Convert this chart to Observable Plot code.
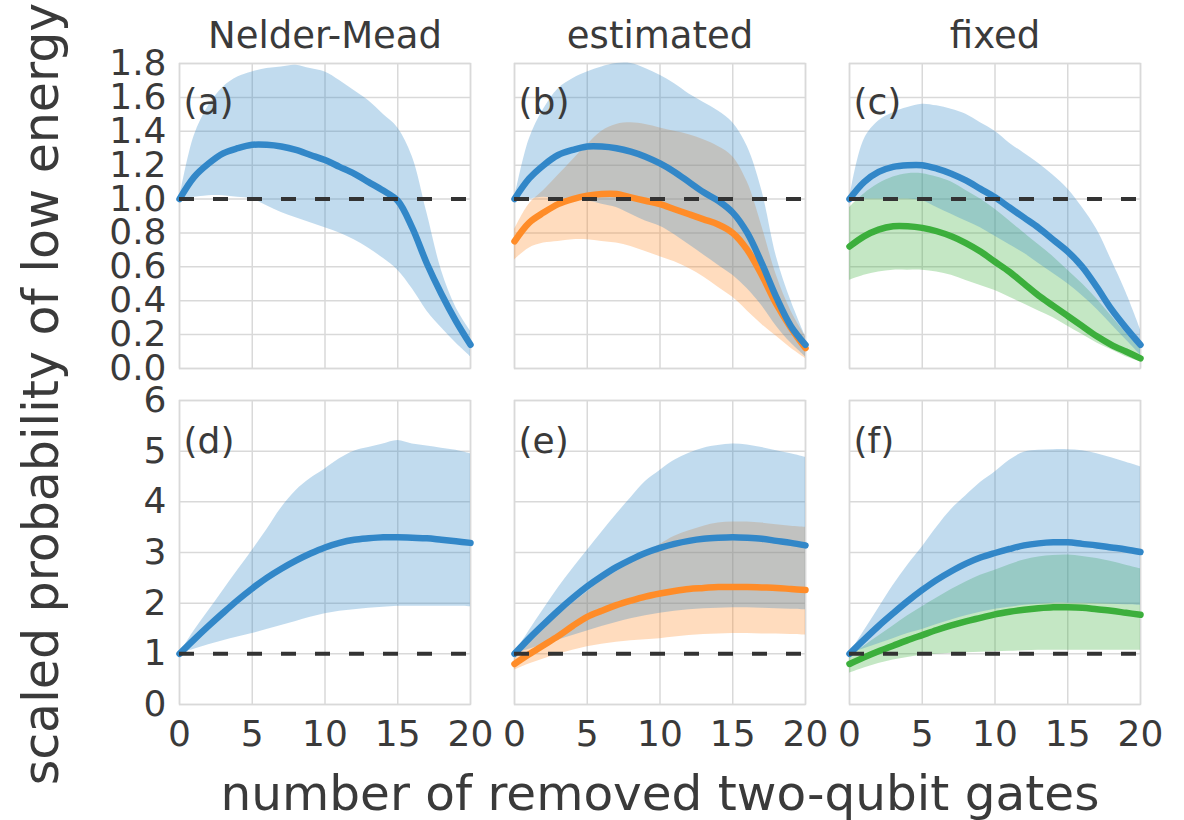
<!DOCTYPE html>
<html>
<head>
<meta charset="utf-8">
<script src="https://cdn.jsdelivr.net/npm/d3@7"></script>
<script src="https://cdn.jsdelivr.net/npm/@observablehq/plot@0.6"></script>
<style>
  html, body { margin: 0; padding: 0; background: #fff; }
  #wrap { position: relative; width: 1184px; height: 820px; overflow: hidden; }
  #wrap svg.plot { display: block; }
  #labels { position: absolute; left: 0; top: 0; pointer-events: none; }
</style>
</head>
<body>
<div id="wrap"></div>
<script>
// ---------- data ----------
const gates = [0,1,2,3,4,5,6,7,8,9,10,11,12,13,14,15,16,17,18,19,20];
const columns = ["Nelder-Mead", "estimated", "fixed"];
const panelTop = ["(a)", "(b)", "(c)"];
const panelBottom = ["(d)", "(e)", "(f)"];
const xTicks = [0, 5, 10, 15, 20];
const yTicksTop = [0, 0.2, 0.4, 0.6, 0.8, 1.0, 1.2, 1.4, 1.6, 1.8];
const yTicksBottom = [0, 1, 2, 3, 4, 5, 6];
const seriesKeys = ["series 1", "series 2", "series 3"];
const seriesColors = ["#3287c8", "#ff8c28", "#3caf3c"];
const xLabel = "number of removed two-qubit gates";
const yLabel = "scaled probability of low energy";

// (a) Nelder-Mead
const aMean = [1.00,1.13,1.21,1.27,1.30,1.32,1.32,1.31,1.29,1.26,1.23,1.19,1.15,1.10,1.05,0.99,0.83,0.62,0.44,0.28,0.14];
const aLo   = [1.00,1.01,1.02,1.02,1.01,1.00,0.96,0.92,0.89,0.86,0.83,0.80,0.76,0.71,0.65,0.58,0.47,0.34,0.24,0.15,0.07];
const aHi   = [1.00,1.37,1.55,1.66,1.72,1.75,1.77,1.78,1.79,1.77,1.75,1.70,1.64,1.58,1.50,1.42,1.25,0.92,0.58,0.36,0.22];
// (b) estimated
const bBlueMean = [1.00,1.12,1.20,1.26,1.29,1.31,1.31,1.30,1.28,1.25,1.21,1.16,1.10,1.04,0.99,0.92,0.80,0.62,0.42,0.25,0.14];
const bBlueLo   = [1.00,1.00,1.01,1.00,1.00,0.99,0.97,0.95,0.91,0.87,0.84,0.79,0.73,0.67,0.61,0.55,0.47,0.37,0.25,0.15,0.07];
const bBlueHi   = [1.00,1.35,1.53,1.65,1.71,1.75,1.78,1.80,1.80,1.77,1.73,1.68,1.62,1.57,1.52,1.45,1.31,1.05,0.66,0.40,0.19];
const bOrMean   = [0.75,0.86,0.92,0.97,1.00,1.02,1.03,1.03,1.01,0.99,0.97,0.94,0.91,0.88,0.85,0.80,0.70,0.55,0.38,0.24,0.12];
const bOrLo     = [0.64,0.71,0.74,0.75,0.76,0.76,0.75,0.74,0.72,0.69,0.66,0.63,0.59,0.54,0.48,0.42,0.34,0.26,0.19,0.12,0.06];
const bOrHi     = [0.82,0.97,1.05,1.14,1.23,1.32,1.40,1.44,1.45,1.44,1.42,1.40,1.38,1.35,1.31,1.25,1.10,0.84,0.55,0.34,0.19];
// (c) fixed
const cBlueMean = [1.00,1.10,1.16,1.19,1.20,1.20,1.18,1.15,1.11,1.06,1.01,0.95,0.89,0.83,0.76,0.69,0.60,0.48,0.35,0.24,0.14];
const cBlueLo   = [1.00,1.00,1.00,1.00,1.00,0.99,0.95,0.91,0.87,0.83,0.78,0.73,0.68,0.62,0.56,0.50,0.43,0.35,0.26,0.17,0.08];
const cBlueHi   = [1.00,1.35,1.46,1.51,1.54,1.56,1.55,1.53,1.50,1.45,1.40,1.33,1.27,1.21,1.14,1.06,0.95,0.82,0.64,0.45,0.23];
const cGrMean   = [0.72,0.78,0.82,0.84,0.84,0.83,0.81,0.78,0.74,0.69,0.63,0.57,0.50,0.43,0.37,0.31,0.25,0.19,0.14,0.10,0.06];
const cGrLo     = [0.52,0.55,0.57,0.58,0.58,0.58,0.57,0.55,0.52,0.49,0.46,0.42,0.38,0.34,0.30,0.25,0.20,0.15,0.11,0.07,0.04];
const cGrHi     = [0.95,1.03,1.09,1.13,1.15,1.15,1.13,1.10,1.05,1.00,0.94,0.87,0.80,0.73,0.66,0.58,0.50,0.41,0.31,0.21,0.12];
// (d) Nelder-Mead
const dMean = [1.00,1.28,1.55,1.81,2.06,2.29,2.50,2.68,2.84,2.98,3.10,3.19,3.25,3.28,3.30,3.30,3.29,3.28,3.25,3.22,3.19];
const dLo   = [1.00,1.09,1.18,1.26,1.33,1.40,1.48,1.56,1.64,1.72,1.79,1.84,1.87,1.90,1.92,1.94,1.94,1.94,1.94,1.94,1.93];
const dHi   = [1.00,1.45,1.85,2.25,2.65,3.04,3.45,3.88,4.22,4.46,4.65,4.85,5.00,5.07,5.14,5.21,5.14,5.10,5.06,5.02,4.95];
// (e) estimated
const eBlueMean = [1.00,1.30,1.58,1.85,2.10,2.33,2.53,2.71,2.86,2.99,3.09,3.17,3.23,3.27,3.29,3.30,3.29,3.27,3.23,3.19,3.14];
const eBlueLo   = [1.00,1.09,1.18,1.27,1.36,1.45,1.54,1.62,1.69,1.75,1.80,1.84,1.87,1.89,1.90,1.91,1.91,1.90,1.89,1.88,1.87];
const eBlueHi   = [1.00,1.45,1.88,2.30,2.68,3.04,3.40,3.75,4.08,4.40,4.62,4.82,4.96,5.06,5.11,5.14,5.12,5.07,5.01,4.95,4.88];
const eOrMean   = [0.80,0.99,1.17,1.35,1.55,1.73,1.85,1.96,2.05,2.13,2.19,2.24,2.28,2.30,2.32,2.32,2.32,2.31,2.30,2.28,2.26];
const eOrLo     = [0.68,0.80,0.90,0.99,1.07,1.14,1.19,1.23,1.26,1.28,1.30,1.33,1.36,1.38,1.39,1.40,1.40,1.39,1.39,1.38,1.37];
const eOrHi     = [0.90,1.20,1.48,1.76,2.00,2.22,2.45,2.62,2.80,3.00,3.16,3.32,3.43,3.52,3.58,3.60,3.60,3.58,3.55,3.52,3.50];
// (f) fixed
const fBlueMean = [1.00,1.28,1.55,1.80,2.04,2.26,2.46,2.63,2.78,2.90,2.99,3.07,3.14,3.18,3.20,3.20,3.17,3.14,3.10,3.06,3.01];
const fBlueLo   = [1.00,1.10,1.20,1.30,1.40,1.48,1.58,1.67,1.75,1.82,1.88,1.92,1.96,1.98,2.00,2.00,2.00,1.99,1.98,1.97,1.96];
const fBlueHi   = [1.00,1.45,1.90,2.35,2.75,3.11,3.50,3.85,4.12,4.38,4.59,4.82,4.98,5.02,5.03,5.03,5.01,4.95,4.87,4.78,4.69];
const fGrMean   = [0.80,0.93,1.05,1.16,1.27,1.37,1.47,1.56,1.64,1.71,1.78,1.83,1.87,1.90,1.92,1.92,1.91,1.88,1.85,1.81,1.77];
const fGrLo     = [0.62,0.72,0.81,0.88,0.93,0.97,0.99,1.01,1.02,1.03,1.04,1.05,1.06,1.07,1.07,1.07,1.07,1.07,1.07,1.07,1.07];
const fGrHi     = [0.95,1.15,1.35,1.55,1.75,1.93,2.10,2.27,2.42,2.55,2.65,2.76,2.85,2.91,2.94,2.95,2.92,2.88,2.82,2.75,2.68];

// ---------- build tables ----------
function rows(col, key, mean, lo, hi) {
  return gates.map((x, i) => ({col, key, x, mean: mean[i], lo: lo[i], hi: hi[i]}));
}
const [k1, k2, k3] = seriesKeys;
const topBlue = [
  ...rows(columns[0], k1, aMean, aLo, aHi),
  ...rows(columns[1], k1, bBlueMean, bBlueLo, bBlueHi),
  ...rows(columns[2], k1, cBlueMean, cBlueLo, cBlueHi)
];
const topOther = [
  ...rows(columns[1], k2, bOrMean, bOrLo, bOrHi),
  ...rows(columns[2], k3, cGrMean, cGrLo, cGrHi)
];
const botBlue = [
  ...rows(columns[0], k1, dMean, dLo, dHi),
  ...rows(columns[1], k1, eBlueMean, eBlueLo, eBlueHi),
  ...rows(columns[2], k1, fBlueMean, fBlueLo, fBlueHi)
];
const botOther = [
  ...rows(columns[1], k2, eOrMean, eOrLo, eOrHi),
  ...rows(columns[2], k3, fGrMean, fGrLo, fGrHi)
];
const topLabels = columns.map((c, i) => ({col: c, label: panelTop[i]}));
const botLabels = columns.map((c, i) => ({col: c, label: panelBottom[i]}));
const titles = columns.map(c => ({col: c}));

// ---------- styles ----------
const textColor = "#3a3a3a";
const gridColor = "#d9d9d9";
const font = "DejaVu Sans";
const curve = "catmull-rom";

function seriesMarks(blue, other) {
  return [
    Plot.areaY(other, {x: "x", y1: "lo", y2: "hi", fx: "col", z: "key", fill: "key", fillOpacity: 0.3, curve}),
    Plot.areaY(blue, {x: "x", y1: "lo", y2: "hi", fx: "col", z: "key", fill: "key", fillOpacity: 0.3, curve}),
    Plot.line(other, {x: "x", y: "mean", fx: "col", z: "key", stroke: "key", strokeWidth: 6.5, curve}),
    Plot.line(blue, {x: "x", y: "mean", fx: "col", z: "key", stroke: "key", strokeWidth: 6.5, curve}),
    Plot.ruleY([1], {stroke: "#333", strokeWidth: 4, strokeDasharray: "15,19"})
  ];
}

const common = {
  width: 1184,
  marginLeft: 178,
  marginRight: 43,
  style: {fontFamily: font, fontSize: "36px", color: textColor, background: "transparent", overflow: "visible"},
  fx: {domain: columns, paddingInner: 0.13, paddingOuter: 0, axis: null, label: null},
  color: {domain: seriesKeys, range: seriesColors}
};

const topPlot = Plot.plot({
  ...common,
  height: 380,
  marginTop: 63,
  marginBottom: 12,
  x: {domain: [0, 20], axis: null},
  y: {domain: [0, 1.8]},
  marks: [
    Plot.gridX(xTicks, {stroke: gridColor, strokeOpacity: 1, strokeWidth: 1.5}),
    Plot.gridY(yTicksTop, {stroke: gridColor, strokeOpacity: 1, strokeWidth: 1.5}),
    Plot.frame({stroke: gridColor, strokeWidth: 1.5}),
    Plot.axisY(yTicksTop, {tickSize: 0, tickPadding: 13, tickFormat: d3.format(".1f"), label: null}),
    ...seriesMarks(topBlue, topOther),
    Plot.text(topLabels, {fx: "col", text: "label", frameAnchor: "top-left", dx: 4, dy: 25, lineAnchor: "top", textAnchor: "start", fontSize: 36, fill: textColor}),
    Plot.text(titles, {fx: "col", text: "col", frameAnchor: "top", dy: -27, lineAnchor: "middle", fontSize: 37, fill: textColor})
  ]
});
topPlot.classList.add("plot");

const bottomPlot = Plot.plot({
  ...common,
  height: 440,
  marginTop: 20,
  marginBottom: 116,
  x: {domain: [0, 20]},
  y: {domain: [0, 6]},
  marks: [
    Plot.gridX(xTicks, {stroke: gridColor, strokeOpacity: 1, strokeWidth: 1.5}),
    Plot.gridY(yTicksBottom, {stroke: gridColor, strokeOpacity: 1, strokeWidth: 1.5}),
    Plot.frame({stroke: gridColor, strokeWidth: 1.5}),
    Plot.axisY(yTicksBottom, {tickSize: 0, tickPadding: 13, tickFormat: d3.format("d"), label: null}),
    Plot.axisX(xTicks, {tickSize: 0, tickPadding: 16, tickFormat: d3.format("d"), label: null}),
    ...seriesMarks(botBlue, botOther),
    Plot.text(botLabels, {fx: "col", text: "label", frameAnchor: "top-left", dx: 4, dy: 27, lineAnchor: "top", textAnchor: "start", fontSize: 36, fill: textColor})
  ]
});
bottomPlot.classList.add("plot");

const wrap = document.getElementById("wrap");
wrap.appendChild(topPlot);
wrap.appendChild(bottomPlot);

// shared axis labels
const overlay = d3.create("svg")
  .attr("id", "labels")
  .attr("width", 1184)
  .attr("height", 820)
  .style("font-family", font)
  .style("fill", textColor);
overlay.append("text")
  .attr("x", 660).attr("y", 810)
  .attr("text-anchor", "middle")
  .style("font-size", "48.5px")
  .text(xLabel);
overlay.append("text")
  .attr("transform", "translate(58,394) rotate(-90)")
  .attr("text-anchor", "middle")
  .style("font-size", "49px")
  .text(yLabel);
wrap.appendChild(overlay.node());
</script>
</body>
</html>
